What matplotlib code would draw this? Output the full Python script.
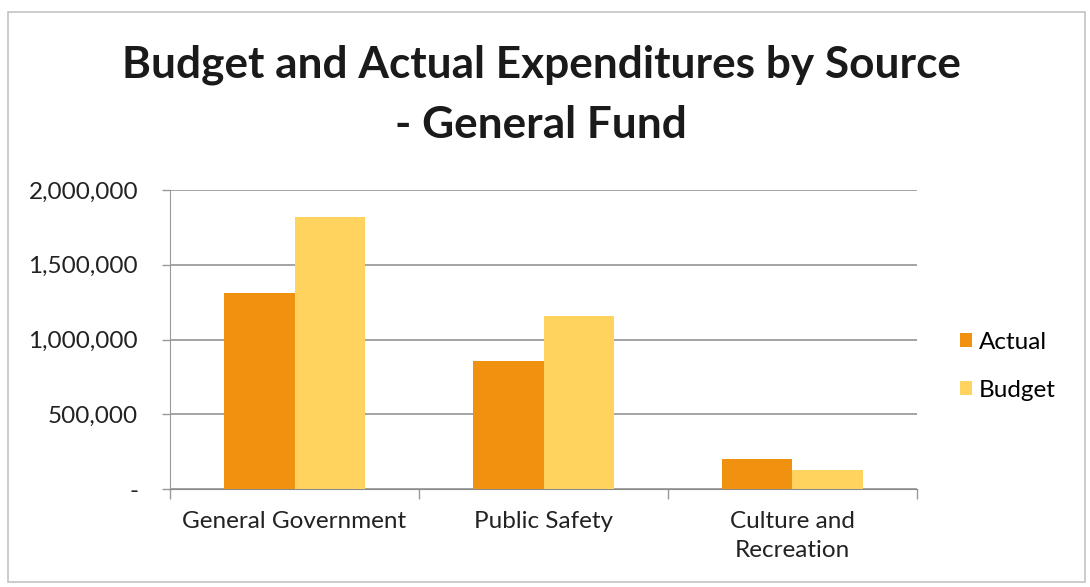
import matplotlib.pyplot as plt
from matplotlib.patches import Rectangle
import numpy as np

categories = ["General Government", "Public Safety", "Culture and\nRecreation"]
actual = [1308000, 855000, 201000]
budget = [1819000, 1156000, 125000]
yticks = [0, 500000, 1000000, 1500000, 2000000]
ytick_labels = ["-", "500,000", "1,000,000", "1,500,000", "2,000,000"]

plt.rcParams['font.family'] = ['Lato', 'DejaVu Sans']

fig = plt.figure(figsize=(10.9, 5.87), dpi=100)
ax = fig.add_axes([170/1090, 1-489/587, 747/1090, 299/587])

x = np.arange(len(categories))
w = 0.283
ax.bar(x - w/2, actual, w, color="#F0920F", label="Actual", zorder=3)
ax.bar(x + w/2, budget, w, color="#FFD35E", label="Budget", zorder=3)

ax.set_xlim(-0.5, 2.5)
ax.set_ylim(0, 2000000)
ax.set_yticks(yticks)
ax.set_yticklabels(ytick_labels)
ax.set_xticks(x)
ax.set_xticklabels(categories, linespacing=1.45)
ax.tick_params(axis='x', length=0, pad=16, labelsize=17.5, labelcolor="#222222")
ax.tick_params(axis='y', length=6, width=1, color="#999999", pad=17, labelsize=17.5, labelcolor="#222222")
# category boundary ticks
ax.set_xticks([-0.5, 0.5, 1.5, 2.5], minor=True)
ax.tick_params(axis='x', which='minor', length=7, width=1, color="#999999")

ax.yaxis.grid(True, color="#8a8a8a", lw=1.1, zorder=0)
for s in ["top", "right"]:
    ax.spines[s].set_visible(False)
ax.spines["left"].set_color("#999999")
ax.spines["bottom"].set_color("#8a8a8a")

ax.legend(loc="center left", bbox_to_anchor=(1.028, 0.41), frameon=False,
          fontsize=17.5, handlelength=0.5, handleheight=0.5, labelspacing=1.1,
          handletextpad=0.3)

fig.text(541/1090, 1-65/587, "Budget and Actual Expenditures by Source",
         ha="center", va="center", fontsize=31.8, fontweight="bold", color="#1a1a1a")
fig.text(541/1090, 1-125/587, "- General Fund",
         ha="center", va="center", fontsize=31.8, fontweight="bold", color="#1a1a1a")

fig.patches.append(Rectangle((8/1090, 1-582/587), 1077/1090, 570/587,
                             transform=fig.transFigure, fill=False,
                             edgecolor="#c4c4c4", lw=1.2))

fig.savefig("out.png", dpi=100)
